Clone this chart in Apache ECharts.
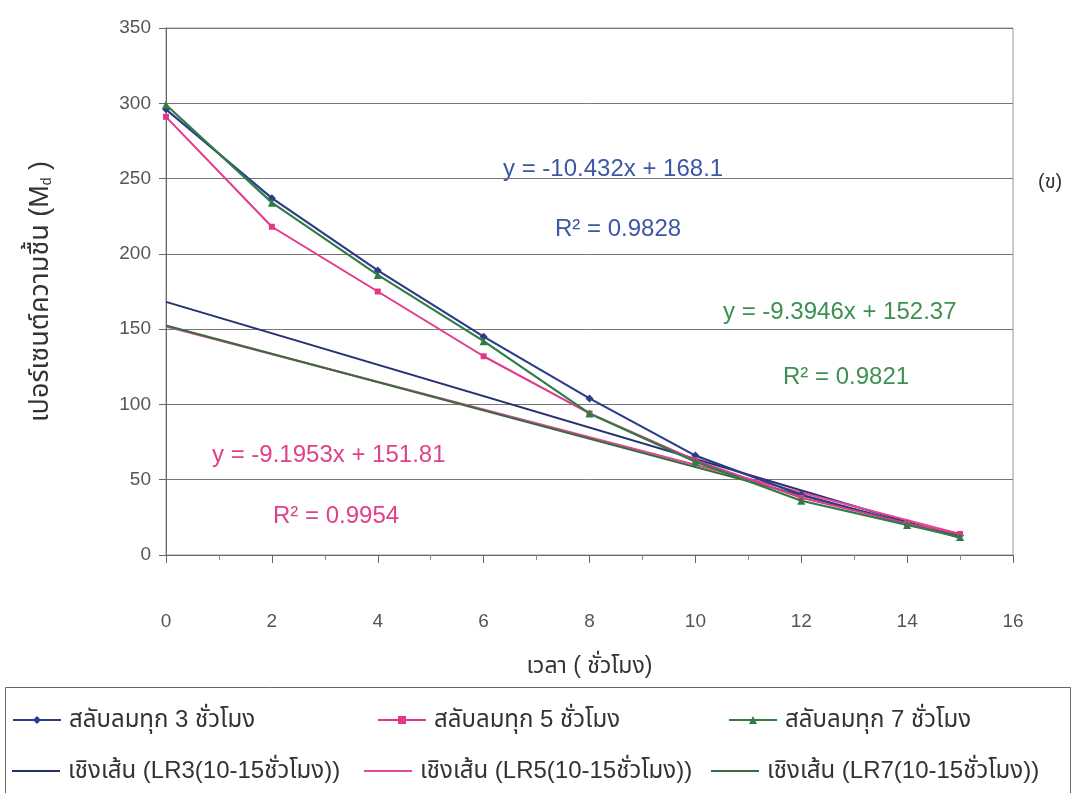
<!DOCTYPE html>
<html>
<head>
<meta charset="utf-8">
<script src="https://cdn.jsdelivr.net/npm/echarts@6/dist/echarts.min.js"></script>
<style>html,body{margin:0;padding:0;background:#fff}#c{width:1076px;height:793px}</style>
</head>
<body>
<div id="c"></div>
<script>
const xValues = [0, 2, 4, 6, 8, 10, 12, 14, 15];
const every3h = [296, 237, 189, 145, 104, 66, 40, 21, 13];
const every5h = [291, 218, 175, 132, 94, 63, 38, 21, 14];
const every7h = [299, 234, 186, 142, 94, 62, 36, 20, 12];
const trendX = [0, 15];
const lr3 = [168.1, 11.6];
const lr5 = [151.81, 13.9];
const lr7 = [152.37, 11.45];
const names = ['สลับลมทุก 3 ชั่วโมง', 'สลับลมทุก 5 ชั่วโมง', 'สลับลมทุก 7 ชั่วโมง',
  'เชิงเส้น (LR3(10-15ชั่วโมง))', 'เชิงเส้น (LR5(10-15ชั่วโมง))', 'เชิงเส้น (LR7(10-15ชั่วโมง))'];
const eqTexts = ['y = -10.432x + 168.1', 'R² = 0.9828', 'y = -9.3946x + 152.37', 'R² = 0.9821', 'y = -9.1953x + 151.81', 'R² = 0.9954'];

const FONT = '"Liberation Sans", Arial, "Noto Sans Thai", "Noto Sans", sans-serif';
const cBlue = '#2b3c8c', cPink = '#e3388a', cGreen = '#2f7d45';
const cBlueT = '#26306e', cPinkT = '#e04a95', cGreenT = '#3a6b40';

const zip = (xs, ys) => xs.map((x, i) => [x, ys[i]]);

const chart = echarts.init(document.getElementById('c'), null, {renderer: 'canvas'});

function lg(name, left, top, lineOnly) {
  return {
    data: [lineOnly ? {name: name, icon: 'rect'} : name], left: left, top: top,
    itemWidth: 48, itemHeight: lineOnly ? 2 : 10, itemGap: 0,
    textStyle: {fontFamily: FONT, fontSize: 24, color: '#333', padding: [0, 0, 0, 3]}, padding: 0
  };
}

const option = {
  animation: false,
  backgroundColor: '#fff',
  grid: {left: 166, right: 63, top: 28, bottom: 238, show: true, borderColor: '#999', borderWidth: 1},
  xAxis: {
    type: 'value', min: 0, max: 16, interval: 2,
    name: 'เวลา ( ชั่วโมง)', nameLocation: 'middle', nameGap: 100,
    nameTextStyle: {fontFamily: FONT, fontSize: 23, color: '#333'},
    axisLine: {onZero: false, lineStyle: {color: '#666', width: 1}},
    axisTick: {show: true, length: 8, lineStyle: {color: '#666'}},
    minorTick: {show: true, splitNumber: 2, length: 5, lineStyle: {color: '#888'}},
    axisLabel: {margin: 57, fontFamily: FONT, fontSize: 19, color: '#555'},
    splitLine: {show: false}
  },
  yAxis: {
    type: 'value', min: 0, max: 350, interval: 50,
    name: '{a|เปอร์เซนต์ความชื้น (M}{b|d}{a| )}', nameLocation: 'middle', nameGap: 112, nameRotate: 90,
    nameTextStyle: {rich: {
      a: {fontFamily: FONT, fontSize: 27, color: '#333'},
      b: {fontFamily: FONT, fontSize: 14, color: '#333', padding: [13, 0, 0, 0]}
    }},
    axisLine: {show: true, lineStyle: {color: '#666', width: 1}},
    axisTick: {show: true, length: 7, lineStyle: {color: '#666'}},
    axisLabel: {margin: 15, fontFamily: FONT, fontSize: 19, color: '#555'},
    splitLine: {show: true, lineStyle: {color: '#777', width: 1}}
  },
  legend: [
    lg(names[0], 12, 708, false), lg(names[1], 377, 708, false), lg(names[2], 728, 708, false),
    lg(names[3], 12, 759, true), lg(names[4], 364, 759, true), lg(names[5], 711, 759, true)
  ],
  graphic: [
    {type: 'rect', shape: {x: 5.5, y: 687.5, width: 1065, height: 120}, style: {fill: 'none', stroke: '#666', lineWidth: 1}, z: -1},
    {type: 'text', left: 503, top: 157, style: {text: eqTexts[0], fill: '#3b57a6', font: '24px ' + FONT}},
    {type: 'text', left: 555, top: 217, style: {text: eqTexts[1], fill: '#3b57a6', font: '24px ' + FONT}},
    {type: 'text', left: 723, top: 300, style: {text: eqTexts[2], fill: '#3c9050', font: '24px ' + FONT}},
    {type: 'text', left: 783, top: 365, style: {text: eqTexts[3], fill: '#3c9050', font: '24px ' + FONT}},
    {type: 'text', left: 212, top: 443, style: {text: eqTexts[4], fill: '#e0408c', font: '24px ' + FONT}},
    {type: 'text', left: 273, top: 504, style: {text: eqTexts[5], fill: '#e0408c', font: '24px ' + FONT}},
    {type: 'text', left: 1038, top: 172, style: {text: '(ข)', fill: '#333', font: '20px ' + FONT}}
  ],
  series: [
    {name: names[3], type: 'line', data: zip(trendX, lr3), symbol: 'none', lineStyle: {color: cBlueT, width: 2}, itemStyle: {color: cBlueT}, z: 2},
    {name: names[4], type: 'line', data: zip(trendX, lr5), symbol: 'none', lineStyle: {color: cPinkT, width: 2}, itemStyle: {color: cPinkT}, z: 2},
    {name: names[5], type: 'line', data: zip(trendX, lr7), symbol: 'none', lineStyle: {color: cGreenT, width: 2}, itemStyle: {color: cGreenT}, z: 2},
    {name: names[0], type: 'line', data: zip(xValues, every3h), symbol: 'diamond', symbolSize: 8, lineStyle: {color: cBlue, width: 2.2}, itemStyle: {color: cBlue}, z: 3},
    {name: names[1], type: 'line', data: zip(xValues, every5h), symbol: 'rect', symbolSize: 6, lineStyle: {color: cPink, width: 2}, itemStyle: {color: cPink}, z: 4},
    {name: names[2], type: 'line', data: zip(xValues, every7h), symbol: 'triangle', symbolSize: 8, lineStyle: {color: cGreen, width: 2.2}, itemStyle: {color: cGreen}, z: 5}
  ]
};
chart.setOption(option);
</script>
</body>
</html>
